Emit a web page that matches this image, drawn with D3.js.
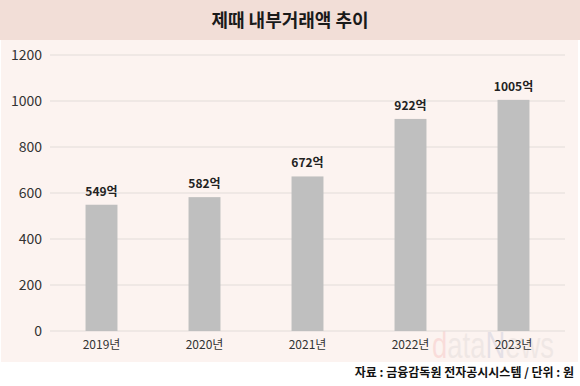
<!DOCTYPE html>
<html>
<head>
<meta charset="utf-8">
<script src="https://cdn.jsdelivr.net/npm/d3@7"></script>
<style>
  body { margin: 0; background: #fff; }
  svg { display: block; }
</style>
</head>
<body>
<div id="chart"></div>
<script>
const years = ["2019년", "2020년", "2021년", "2022년", "2023년"];
const amounts = [549, 582, 672, 922, 1005];
const valueLabels = ["549억", "582억", "672억", "922억", "1005억"];
const yTicks = [0, 200, 400, 600, 800, 1000, 1200];

(() => {
  const width = 580, height = 386;
  const font = "'Noto Sans CJK KR', 'Noto Sans', sans-serif";

  const svg = d3.select("#chart").append("svg")
    .attr("width", width)
    .attr("height", height);

  // background bands
  svg.append("rect").attr("x", 0).attr("y", 0).attr("width", width).attr("height", 40)
    .attr("fill", "#f2ded7");
  svg.append("rect").attr("x", 1).attr("y", 40).attr("width", 577).attr("height", 322)
    .attr("fill", "#fcf3f0");

  svg.append("text")
    .attr("x", width / 2).attr("y", 27)
    .attr("text-anchor", "middle")
    .style("font-family", font).style("font-weight", "bold").style("font-size", "18px")
    .style("fill", "#1a1a1a")
    .text("제때 내부거래액 추이");

  const x = d3.scaleBand().domain(years).range([50, 565]).paddingInner(0.69).paddingOuter(0.345);
  const y = d3.scaleLinear().domain([0, 1200]).range([331, 55]);

  // watermark, faint, sits behind the labels
  const wm = svg.append("text")
    .attr("x", 432).attr("y", 358)
    .attr("textLength", 122).attr("lengthAdjust", "spacingAndGlyphs")
    .style("font-family", "'Liberation Sans', 'DejaVu Sans', sans-serif").style("font-size", "36px")
    .style("opacity", 0.1);
  wm.append("tspan").style("fill", "#e01f26").text("d");
  wm.append("tspan").style("fill", "#888").text("ata");
  wm.append("tspan").style("fill", "#1b3f95").text("N");
  wm.append("tspan").style("fill", "#888").text("ews");

  // gridlines
  svg.append("g").selectAll("line")
    .data(yTicks)
    .join("line")
    .attr("x1", 50).attr("x2", 565)
    .attr("y1", d => y(d)).attr("y2", d => y(d))
    .attr("stroke", "#e2dcd9")
    .attr("stroke-width", 1);

  const yAxis = svg.append("g")
    .attr("transform", "translate(42,0)")
    .call(d3.axisLeft(y).tickValues(yTicks).tickFormat(d3.format("d")).tickSize(0).tickPadding(0));
  yAxis.select(".domain").remove();
  yAxis.selectAll("text")
    .style("font-family", font).style("font-size", "14px").style("fill", "#333");

  svg.append("g").selectAll("rect")
    .data(amounts)
    .join("rect")
    .attr("x", (d, i) => x(years[i]))
    .attr("y", d => y(d))
    .attr("width", x.bandwidth())
    .attr("height", d => y(0) - y(d))
    .attr("fill", "#bfbfbf");

  svg.append("g").selectAll("text")
    .data(amounts)
    .join("text")
    .attr("x", (d, i) => x(years[i]) + x.bandwidth() / 2)
    .attr("y", d => y(d) - 9)
    .attr("text-anchor", "middle")
    .style("font-family", font).style("font-size", "12px").style("font-weight", "600")
    .style("fill", "#222")
    .text((d, i) => valueLabels[i]);

  const xAxis = svg.append("g")
    .attr("transform", "translate(0,331)")
    .call(d3.axisBottom(x).tickSize(0).tickPadding(9));
  xAxis.select(".domain").remove();
  xAxis.selectAll("text")
    .style("font-family", font).style("font-size", "12px").style("fill", "#333");

  svg.append("text")
    .attr("x", 574).attr("y", 377)
    .attr("text-anchor", "end")
    .style("font-family", font).style("font-weight", "bold").style("font-size", "12px")
    .style("fill", "#111")
    .text("자료 : 금융감독원 전자공시시스템 / 단위 : 원");
})();
</script>
</body>
</html>
